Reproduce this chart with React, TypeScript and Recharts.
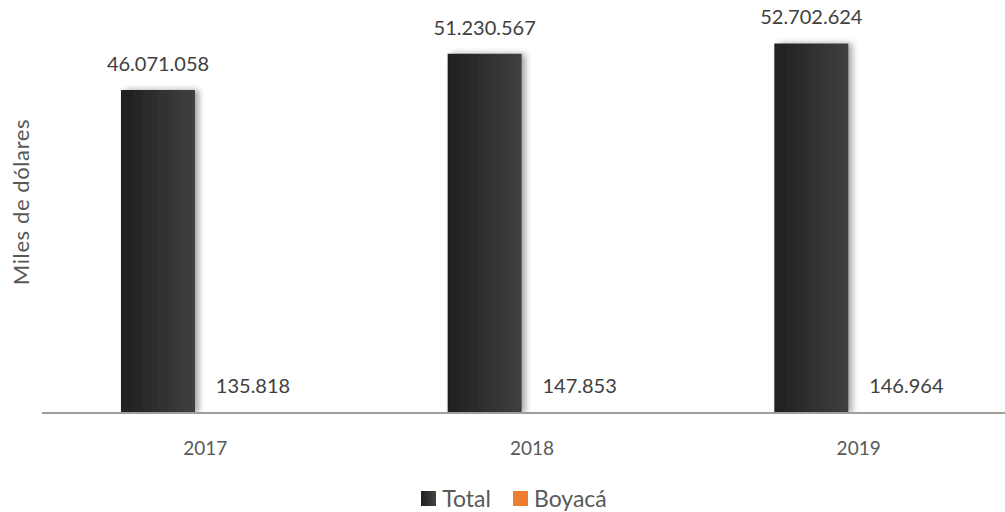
import React from 'react';
import { BarChart, Bar, XAxis, YAxis, LabelList, Legend } from 'recharts';

const years = ['2017', '2018', '2019'];
const totalValues = [46071058, 51230567, 52702624];
const boyacaValues = [135818, 147853, 146964];

const data = years.map((year, i) => ({
  year,
  Total: totalValues[i],
  'Boyacá': boyacaValues[i],
}));

const fmt = (v: number) => v.toLocaleString('de-DE');

const FONT = 'Lato, "Open Sans", sans-serif';

function LegendContent() {
  const items = [
    { name: 'Total', color: '#2b2b2b' },
    { name: 'Boyacá', color: '#ED7D31' },
  ];
  return (
    <div
      style={{
        display: 'flex',
        justifyContent: 'center',
        alignItems: 'center',
        gap: 22,
        fontFamily: FONT,
        fontSize: 23,
        color: '#595959',
        height: 69,
        boxSizing: 'border-box',
        paddingTop: 41,
        paddingRight: 36,
      }}
    >
      {items.map((it) => (
        <span key={it.name} style={{ display: 'flex', alignItems: 'center' }}>
          <span
            style={{
              width: 15,
              height: 15,
              marginRight: 6,
              background: it.name === 'Total' ? 'linear-gradient(to right, #1f1f1f, #444)' : it.color,
            }}
          />
          {it.name}
        </span>
      ))}
    </div>
  );
}

export default function App() {
  return (
    <div style={{ position: 'absolute', left: 0, top: 0, width: 1005, height: 512, overflow: 'hidden', background: '#fff' }}>
      <div
        style={{
          position: 'absolute',
          left: 20,
          top: 202,
          transform: 'translate(-50%, -50%) rotate(-90deg)',
          fontFamily: FONT,
          fontSize: 22,
          letterSpacing: 0.6,
          color: '#595959',
          whiteSpace: 'nowrap',
        }}
      >
        Miles de dólares
      </div>
      <BarChart
        width={1030}
        height={512}
        data={data}
        margin={{ top: 0, right: 8, bottom: 0, left: 42 }}
        barGap={21}
        barCategoryGap={79}
      >
        <defs>
          <linearGradient id="totalGrad" x1="0" y1="0" x2="1" y2="0">
            <stop offset="0%" stopColor="#1f1f1f" />
            <stop offset="100%" stopColor="#404040" />
          </linearGradient>
          <filter id="barShadow" x="-20%" y="-5%" width="150%" height="110%">
            <feDropShadow dx="4" dy="0" stdDeviation="3" floodColor="#000" floodOpacity="0.35" />
          </filter>
        </defs>
        <XAxis
          dataKey="year"
          axisLine={{ stroke: '#a39d98', strokeWidth: 2 }}
          tickLine={false}
          height={30}
          tick={{ fontFamily: FONT, fontSize: 19, fill: '#595959' }}
          tickMargin={23}
        />
        <YAxis hide domain={[0, 58900000]} allowDataOverflow />
        <Legend verticalAlign="bottom" content={<LegendContent />} />
        <Bar dataKey="Total" fill="url(#totalGrad)" filter="url(#barShadow)" isAnimationActive={false}>
          <LabelList
            dataKey="Total"
            position="top"
            offset={19}
            formatter={(v: any) => fmt(Number(v))}
            style={{ fontFamily: FONT, fontSize: 20, fill: '#404040' }}
          />
        </Bar>
        <Bar dataKey="Boyacá" fill="#ED7D31" isAnimationActive={false}>
          <LabelList
            dataKey="Boyacá"
            position="top"
            offset={19}
            formatter={(v: any) => fmt(Number(v))}
            style={{ fontFamily: FONT, fontSize: 20, fill: '#404040' }}
          />
        </Bar>
      </BarChart>
    </div>
  );
}
